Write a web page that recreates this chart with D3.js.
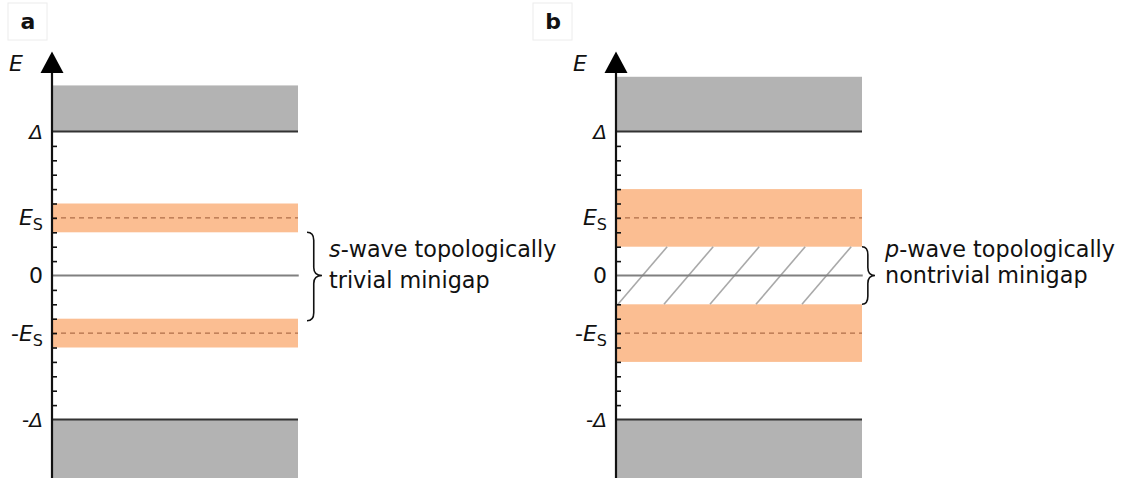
<!DOCTYPE html>
<html>
<head>
<meta charset="utf-8">
<script src="https://cdn.jsdelivr.net/npm/d3@7"></script>
<style>
  html, body { margin: 0; padding: 0; background: #fff; }
  svg { display: block; font-family: "DejaVu Sans", Verdana, sans-serif; }
</style>
</head>
<body>
<svg id="chart" width="1130" height="478"></svg>
<script>
// Energy levels, in units of Δ/10
const panels = ["a", "b"];
const gapEdge = [10, 10];            // Δ
const bulkTop = [13.2, 13.8];        // top of the drawn continuum above Δ
const bulkBottom = [-14.2, -14.2];   // bottom of the continuum below -Δ
const sEnergy = [4, 4];              // E_S
const bandHalfWidth = [1, 2];        // half width of the Andreev bands
const minigapLabel = [
  ["s", "-wave topologically", "trivial minigap"],
  ["p", "-wave topologically", "nontrivial minigap"]
];
const tickValues = [-9, -8, -7, -6, -5, -4, -3, -2, -1, 1, 2, 3, 4, 5, 6, 7, 8, 9];
const tickLabels = [
  { v: 10, main: "Δ", sign: "", sub: "" },
  { v: 4, main: "E", sign: "", sub: "S" },
  { v: 0, main: "0", sign: "", sub: "", upright: true },
  { v: -4, main: "E", sign: "-", sub: "S" },
  { v: -10, main: "Δ", sign: "-", sub: "" }
];

const svg = d3.select("#chart");
const y = d3.scaleLinear().domain([-10, 10]).range([419.5, 131.5]);
const axisX = [52, 616];
const plotW = 246;

const grayFill = "#b3b3b3";
const orangeFill = "#fbbe92";
const dashColor = "#b06e48";

panels.forEach((name, i) => {
  const x0 = axisX[i];
  const x = d3.scaleLinear().domain([0, 1]).range([x0, x0 + plotW]);
  const g = svg.append("g");

  // panel letter in a light box
  const bx = i === 0 ? 8 : 533;
  g.append("rect").attr("x", bx).attr("y", 3).attr("width", 39).attr("height", 37)
    .attr("fill", "#fff").attr("stroke", "#ececec").attr("stroke-width", 1);
  g.append("text").attr("x", bx + 20).attr("y", 29).attr("text-anchor", "middle")
    .attr("font-weight", "bold").attr("font-size", 22).attr("fill", "#111").text(name);

  // continuum above Δ and below -Δ
  g.append("rect").attr("x", x(0)).attr("width", x(1) - x(0))
    .attr("y", y(bulkTop[i])).attr("height", y(gapEdge[i]) - y(bulkTop[i]))
    .attr("fill", grayFill);
  g.append("rect").attr("x", x(0)).attr("width", x(1) - x(0))
    .attr("y", y(-gapEdge[i])).attr("height", y(bulkBottom[i]) - y(-gapEdge[i]))
    .attr("fill", grayFill);
  [gapEdge[i], -gapEdge[i]].forEach(v => {
    g.append("line").attr("x1", x(0)).attr("x2", x(1)).attr("y1", y(v)).attr("y2", y(v))
      .attr("stroke", "#333").attr("stroke-width", 2);
  });

  // Andreev bands around ±E_S
  [sEnergy[i], -sEnergy[i]].forEach(e => {
    g.append("rect").attr("x", x(0)).attr("width", x(1) - x(0))
      .attr("y", y(e + bandHalfWidth[i])).attr("height", y(e - bandHalfWidth[i]) - y(e + bandHalfWidth[i]))
      .attr("fill", orangeFill);
  });

  // hatched minigap for the p-wave case
  if (i === 1) {
    const lo = -sEnergy[i] + bandHalfWidth[i], hi = sEnergy[i] - bandHalfWidth[i];
    const starts = [0.008, 0.195, 0.382, 0.569, 0.756];
    starts.forEach(s => {
      g.append("line")
        .attr("x1", x(s)).attr("y1", y(lo))
        .attr("x2", x(s + 0.2)).attr("y2", y(hi))
        .attr("stroke", "#a9a9a9").attr("stroke-width", 1.6);
    });
  }

  // zero line
  g.append("line").attr("x1", x(0)).attr("x2", x(1.003)).attr("y1", y(0)).attr("y2", y(0))
    .attr("stroke", "#808080").attr("stroke-width", 2);

  // dashed lines at ±E_S
  [sEnergy[i], -sEnergy[i]].forEach(e => {
    g.append("line").attr("x1", x(0)).attr("x2", x(1)).attr("y1", y(e)).attr("y2", y(e))
      .attr("stroke", dashColor).attr("stroke-width", 1.3).attr("stroke-dasharray", "5,4");
  });

  // energy axis with small ticks on the inner side
  const axis = d3.axisRight(y).tickValues(tickValues).tickSize(5).tickFormat("");
  const ag = g.append("g").attr("transform", `translate(${x0},0)`).call(axis);
  ag.select(".domain").remove();
  ag.selectAll(".tick line").attr("stroke", "#111").attr("stroke-width", 1.6);

  g.append("line").attr("x1", x0).attr("x2", x0).attr("y1", 478).attr("y2", 70)
    .attr("stroke", "#111").attr("stroke-width", 2.2);
  g.append("path")
    .attr("d", `M${x0},51.5 L${x0 + 11.5},73 L${x0 - 11.5},73 Z`)
    .attr("fill", "#000");
  g.append("text").attr("x", x0 - 29).attr("y", 71).attr("text-anchor", "end")
    .attr("font-size", 22).attr("font-style", "italic").attr("fill", "#111").text("E");

  // tick labels
  tickLabels.forEach(t => {
    const tx = g.append("text").attr("x", x0 - 9).attr("y", y(t.v) + 7.5)
      .attr("text-anchor", "end").attr("font-size", t.sub || t.upright ? 22 : 20).attr("fill", "#111");
    if (t.sign) tx.append("tspan").text(t.sign);
    tx.append("tspan").attr("font-style", t.upright ? "normal" : "italic").text(t.main);
    if (t.sub) tx.append("tspan").attr("font-size", 16).attr("dy", 5).text(t.sub);
  });

  // curly brace marking the minigap
  const lo = -sEnergy[i] + bandHalfWidth[i], hi = sEnergy[i] - bandHalfWidth[i];
  const yt = y(hi), yb = y(lo) + (i === 0 ? 2 : 0), ym = y(0);
  const bxl = i === 0 ? 307 : 862, bw = i === 0 ? 15 : 13;
  const sp = bxl + bw * 0.45, tip = bxl + bw;
  const brace = `M${bxl},${yt} Q${sp},${yt} ${sp},${yt + 8} L${sp},${ym - 8} Q${sp},${ym} ${tip},${ym}` +
                ` Q${sp},${ym} ${sp},${ym + 8} L${sp},${yb - 8} Q${sp},${yb} ${bxl},${yb}`;
  g.append("path").attr("d", brace).attr("fill", "none").attr("stroke", "#111").attr("stroke-width", 1.6);

  const lx = i === 0 ? 329 : 885;
  const t1 = g.append("text").attr("x", lx).attr("y", 257).attr("font-size", 22.3).attr("fill", "#111");
  t1.append("tspan").attr("font-style", "italic").text(minigapLabel[i][0]);
  t1.append("tspan").text(minigapLabel[i][1]);
  g.append("text").attr("x", lx).attr("y", i === 0 ? 288 : 283).attr("font-size", 22.3).attr("fill", "#111")
    .text(minigapLabel[i][2]);
});
</script>
</body>
</html>
